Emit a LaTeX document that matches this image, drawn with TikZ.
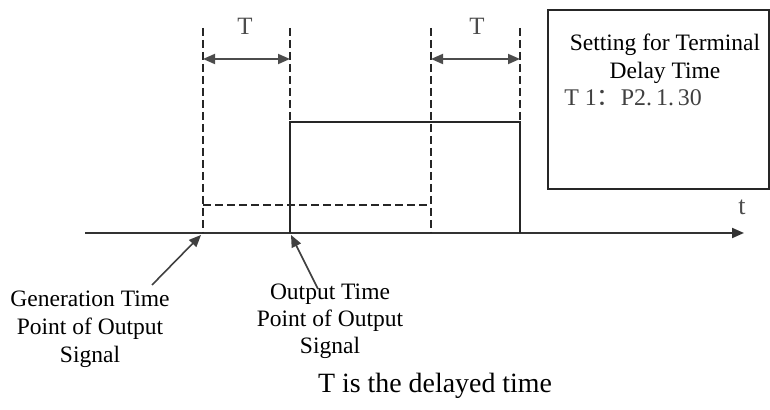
\documentclass[tikz,border=0pt]{standalone}
\usepackage{fontspec}
\setmainfont{Liberation Serif}
\newfontfamily\cjk{Noto Sans CJK SC}
\usetikzlibrary{arrows.meta, positioning}

\begin{document}
\begin{tikzpicture}[x=0.5bp, y=-0.5bp, >={Triangle[length=6bp, width=5bp]},
    sig/.style={line width=0.7bp, black!85},
    guide/.style={line width=0.7bp, black!85, dash pattern=on 4bp off 2bp},
    lbl/.style={align=center, inner sep=0pt, font=\fontsize{11.8}{14}\selectfont},
    tlbl/.style={inner sep=0pt, black!70, font=\fontsize{12.5}{15}\selectfont}]
    \useasboundingbox (0,0) rectangle (770,410);

    % Points on the time axis
    \coordinate (ax0) at (85,233);
    \coordinate (ax1) at (744,233);
    \coordinate (g0) at (203,233);
    \coordinate (g1) at (203,28);
    \coordinate (o0) at (290,233);
    \coordinate (oh) at (290,122);
    \coordinate (o1) at (290,28);
    \coordinate (d0) at (431,233);
    \coordinate (d1) at (431,28);
    \coordinate (e0) at (520,233);
    \coordinate (eh) at (520,122);
    \coordinate (e1) at (520,28);
    \coordinate (dl) at (203,205);
    \coordinate (dr) at (431,205);
    \coordinate (ga) at (203,59);
    \coordinate (oa) at (290,59);
    \coordinate (da) at (431,59);
    \coordinate (ea) at (520,59);

    % Nodes
    \node[tlbl] (T1) at (245,26) {T};
    \node[tlbl] (T2) at (477,26) {T};
    \node[tlbl, font=\fontsize{13}{15}\selectfont] (t) at (742,207) {t};
    \node[draw, sig, minimum width=110.5bp, minimum height=89.5bp] (setbox) at (658.5,99.5) {};
    \node[lbl] (settitle) at (665,58.5) {Setting for Terminal\\Delay Time};
    \node[inner sep=0pt, black!75, font=\fontsize{12}{14}\selectfont, anchor=west] (setval) at (564,98) {T 1{\cjk ：}P2.\,1.\,30};
    \node[lbl] (gen) at (90,329) {Generation Time\\Point of Output\\Signal};
    \node[lbl, font=\fontsize{11.8}{13.5}\selectfont] (out) at (330,321) {Output Time\\Point of Output\\Signal};
    \node[inner sep=0pt, font=\fontsize{14}{17}\selectfont] (note) at (435,386) {T is the delayed time};
    \coordinate (gp) at (152,285);
    \coordinate (op) at (318,289);

    % Time axis
    \draw[->, line width=1bp, black!80] (ax0) -- (ax1);

    % Signals
    \draw[guide] (g1) -- (g0);
    \draw[guide] (o1) -- (oh);
    \draw[guide] (d1) -- (d0);
    \draw[guide] (e1) -- (eh);
    \draw[guide] (dl) -- (dr);
    \draw[sig] (o0) -- (oh) -- (eh) -- (e0);

    % Delay arrows
    \draw[<->, line width=0.9bp, black!70] (ga) -- (oa);
    \draw[<->, line width=0.9bp, black!70] (da) -- (ea);

    % Pointers
    \draw[->, line width=0.8bp, black!75] (gp) -- (201,235);
    \draw[->, line width=0.8bp, black!75] (op) -- (291,235);
\end{tikzpicture}
\end{document}
